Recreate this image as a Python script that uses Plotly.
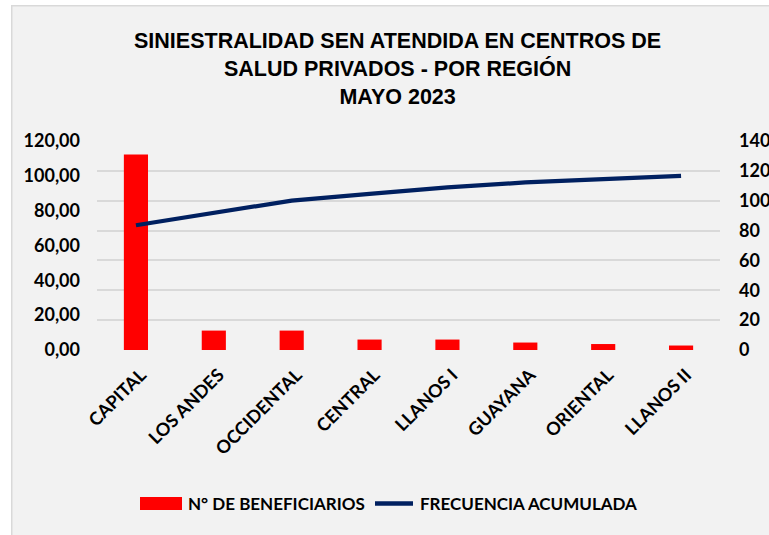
import plotly.graph_objects as go

# ---- data ----
regiones = ["CAPITAL", "LOS ANDES", "OCCIDENTAL", "CENTRAL", "LLANOS I",
            "GUAYANA", "ORIENTAL", "LLANOS II"]
beneficiarios = [131, 13, 13, 7, 7, 5, 4, 3]
frecuencia_acumulada = [71.6, 78.7, 85.8, 89.6, 93.4, 96.2, 98.4, 100.0]
left_ticks = [0, 20, 40, 60, 80, 100, 120]
left_tick_labels = ["0,00", "20,00", "40,00", "60,00", "80,00", "100,00", "120,00"]
right_ticks = [0, 20, 40, 60, 80, 100, 120, 140]
titulo = "SINIESTRALIDAD SEN ATENDIDA EN CENTROS DE<br>SALUD PRIVADOS - POR REGIÓN<br>MAYO 2023"
nombre_barras = "N° DE BENEFICIARIOS"
nombre_linea = "FRECUENCIA ACUMULADA"

# ---- layout geometry (pixels) ----
W, H = 769, 535
L, R, T, B = 97, 720, 141, 350


def px_x(px):
    return (px - L) / (R - L)


def px_y(py):
    return (B - py) / (B - T)


FAM = "Lato, Carlito, Calibri, sans-serif"
TICK = dict(family=FAM, size=18, color="#000000", weight="bold")
LEG = dict(family=FAM, size=17, color="#000000", weight="bold")
BG = "#F2F2F2"
BORDER = "#D9D9D9"

fig = go.Figure()
fig.add_bar(x=regiones, y=beneficiarios, yaxis="y", name=nombre_barras,
            marker=dict(color="#FF0000", line=dict(width=0)), showlegend=False)
fig.add_scatter(x=regiones, y=frecuencia_acumulada, yaxis="y2", mode="lines",
                name=nombre_linea, line=dict(color="#002060", width=4.2),
                showlegend=False)

shapes = [
    # white area outside the chart frame (left strip and top strip)
    dict(type="rect", xref="paper", yref="paper", layer="below",
         x0=px_x(-20), x1=px_x(11), y0=px_y(600), y1=px_y(-20),
         fillcolor="#FFFFFF", line=dict(width=0)),
    dict(type="rect", xref="paper", yref="paper", layer="below",
         x0=px_x(-20), x1=px_x(800), y0=px_y(5), y1=px_y(-20),
         fillcolor="#FFFFFF", line=dict(width=0)),
    # frame border (left and top)
    dict(type="line", xref="paper", yref="paper", layer="below",
         x0=px_x(11.75), x1=px_x(11.75), y0=px_y(600), y1=px_y(5),
         line=dict(color=BORDER, width=1.5)),
    dict(type="line", xref="paper", yref="paper", layer="below",
         x0=px_x(11), x1=px_x(800), y0=px_y(5.75), y1=px_y(5.75),
         line=dict(color=BORDER, width=1.5)),
    # legend markers
    dict(type="rect", xref="paper", yref="paper",
         x0=px_x(140), x1=px_x(182), y0=px_y(510), y1=px_y(497),
         fillcolor="#FF0000", line=dict(width=0)),
    dict(type="line", xref="paper", yref="paper",
         x0=px_x(375), x1=px_x(413), y0=px_y(503.5), y1=px_y(503.5),
         line=dict(color="#002060", width=4.5)),
]

annotations = [
    dict(text=titulo, xref="paper", yref="paper", x=px_x(397), y=px_y(69),
         xanchor="center", yanchor="middle", showarrow=False,
         font=dict(family="Liberation Sans, Arial, sans-serif", size=21.5,
                   color="#000000", weight="bold")),
    dict(text=nombre_barras, xref="paper", yref="paper", x=px_x(186), y=px_y(503.5),
         xanchor="left", yanchor="middle", showarrow=False, font=LEG),
    dict(text=nombre_linea, xref="paper", yref="paper", x=px_x(418), y=px_y(503.5),
         xanchor="left", yanchor="middle", showarrow=False, font=LEG),
]

fig.update_layout(
    width=W, height=H,
    margin=dict(l=L, r=W - R, t=T, b=H - B, pad=0, autoexpand=False),
    paper_bgcolor=BG, plot_bgcolor="rgba(0,0,0,0)",
    bargap=0.69, showlegend=False,
    shapes=shapes, annotations=annotations,
    xaxis=dict(type="category", range=[-0.5, 7.5], showgrid=False, zeroline=False,
               showline=False, tickangle=-45, tickfont=TICK, ticks="",
               ticklabelstandoff=10, ticklabelshift=5, automargin=False),
    yaxis=dict(side="right", range=[0, 140], tickvals=right_ticks,
               showgrid=True, gridcolor=BORDER, gridwidth=1.5,
               zeroline=False, showline=False, tickfont=TICK, ticks="",
               ticklabelstandoff=18, automargin=False),
    yaxis2=dict(side="left", overlaying="y", range=[0, 120],
                tickvals=left_ticks, ticktext=left_tick_labels,
                showgrid=False, zeroline=False, showline=False,
                tickfont=TICK, ticks="", ticklabelstandoff=16, automargin=False),
)

fig.write_html("out.html", config={"displayModeBar": False},
               post_script="document.body.style.margin='0';document.body.style.overflow='hidden';")
